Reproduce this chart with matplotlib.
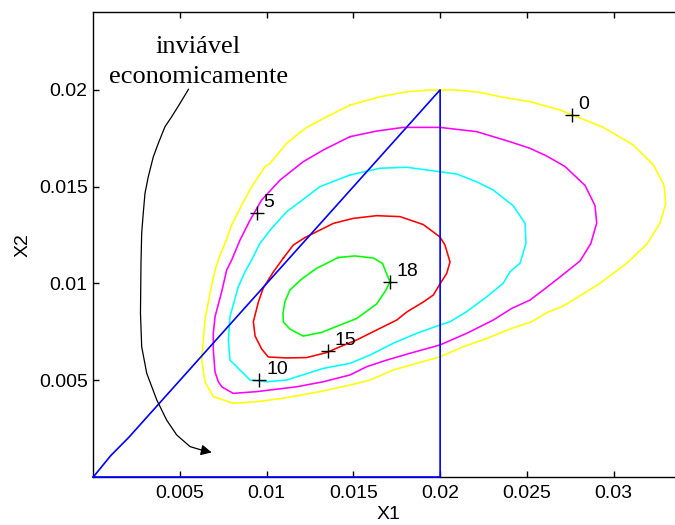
import numpy as np
import matplotlib
matplotlib.use("Agg")
import matplotlib.pyplot as plt

plt.rcParams["font.family"] = ["Liberation Sans", "DejaVu Sans"]

# contour lines, coordinates in units of 1e-3
levels = [0, 5, 10, 15, 18]
colors = ["#ffff00", "#ff00ff", "#00ffff", "#ff0000", "#00ff00"]

x_c0 = [14.80, 16.53, 18.07, 19.42, 20.96, 22.30, 23.64, 25.18, 26.91, 27.88,
        29.41, 31.14, 32.30, 32.91, 33.01, 32.68, 31.93, 30.76, 29.22, 27.97,
        27.10, 26.15, 25.28, 24.13, 22.69, 21.34, 19.99, 18.65, 17.30, 15.96,
        14.80, 13.07, 10.96, 9.42, 8.07, 7.50, 6.92, 6.44, 6.25, 6.34,
        6.44, 6.73, 7.02, 7.31, 7.60, 7.98, 8.56, 9.13, 9.90, 10.19,
        11.15, 12.21, 13.46]
y_c0 = [19.21, 19.64, 19.90, 19.99, 19.99, 19.87, 19.61, 19.39, 18.96, 18.61,
        18.06, 17.15, 16.12, 15.08, 14.10, 13.12, 12.04, 11.04, 10.01, 9.31,
        8.83, 8.49, 8.02, 7.68, 7.16, 6.73, 6.21, 5.87, 5.53, 5.01,
        4.75, 4.41, 4.07, 3.89, 3.81, 3.98, 4.15, 4.92, 6.04, 7.08,
        8.11, 9.49, 10.69, 11.47, 12.07, 13.02, 14.05, 14.99, 16.03, 16.20,
        17.24, 18.01, 18.61]

x_c5 = [14.80, 16.34, 17.88, 19.99, 22.11, 24.03, 25.18, 26.15, 27.20, 28.36,
        28.93, 29.03, 28.69, 28.07, 26.91, 25.95, 25.18, 24.13, 23.07, 21.53,
        19.99, 18.26, 16.92, 15.77, 14.80, 13.26, 11.73, 9.42, 8.07, 7.42,
        7.21, 7.02, 6.92, 6.92, 7.02, 7.40, 7.69, 7.98, 8.46, 9.04,
        9.71, 10.77, 12.11, 13.26]
y_c5 = [17.58, 17.87, 18.06, 18.06, 17.84, 17.32, 16.98, 16.58, 16.04, 15.06,
        14.02, 13.12, 12.06, 11.16, 10.33, 9.66, 9.14, 8.71, 8.11, 7.42,
        6.82, 6.39, 6.04, 5.70, 5.27, 4.92, 4.66, 4.41, 4.32, 4.65,
        4.92, 5.42, 6.56, 7.42, 8.28, 9.56, 10.69, 11.21, 12.24, 13.27,
        14.31, 15.34, 16.29, 16.89]

x_c10 = [14.80, 16.53, 18.07, 19.99, 20.96, 22.11, 23.07, 24.22, 24.90, 24.95,
         24.61, 24.03, 23.64, 22.69, 21.53, 20.57, 19.99, 18.65, 17.30, 15.96,
         14.80, 13.26, 11.15, 10.00, 9.04, 7.88, 7.79, 7.88, 8.36, 8.75,
         9.13, 9.61, 10.29, 11.15, 12.31, 13.07]
y_c10 = [15.60, 15.95, 16.00, 15.77, 15.65, 15.25, 14.82, 14.01, 13.10, 12.07,
         11.05, 10.60, 10.01, 9.31, 8.54, 8.02, 7.85, 7.42, 6.91, 6.30,
         5.87, 5.61, 5.01, 4.92, 5.01, 6.04, 7.08, 8.28, 9.83, 10.60,
         11.21, 12.07, 12.85, 13.70, 14.48, 15.00]

x_c15 = [10.96, 11.53, 12.21, 13.84, 14.99, 16.34, 17.69, 19.03, 19.99, 20.28,
         20.57, 20.38, 19.99, 19.61, 19.03, 18.07, 17.50, 16.15, 15.19, 14.23,
         13.46, 12.31, 11.15, 10.09, 9.71, 9.33, 9.23, 9.52, 9.80, 10.38]
y_c15 = [11.31, 11.98, 12.37, 13.10, 13.36, 13.50, 13.45, 13.04, 12.40, 11.98,
         11.11, 10.52, 9.97, 9.40, 9.04, 8.52, 8.11, 7.51, 7.08, 6.73,
         6.43, 6.17, 6.15, 6.20, 6.61, 7.28, 8.02, 9.04, 9.76, 10.59]

x_c18 = [14.13, 15.09, 16.15, 16.68, 16.94, 17.11, 16.88, 16.34, 15.19, 14.23,
         13.17, 12.11, 11.34, 10.96, 10.94, 11.06, 11.34, 12.02, 12.88]
y_c18 = [11.34, 11.42, 11.31, 11.03, 10.43, 10.09, 9.66, 8.94, 8.19, 7.85,
         7.47, 7.28, 7.64, 8.01, 8.47, 9.09, 9.66, 10.23, 10.78]

# labelled points on the contours
lab_x = [27.59, 9.42, 9.56, 13.52, 17.11]
lab_y = [18.70, 13.62, 5.01, 6.51, 10.09]
lab_txt = ["0", "5", "10", "15", "18"]

# feasibility limits: diagonal X2 = X1 and X1 = 0.02
tri_x = [0, 1.0, 2.05, 5.0, 20.0, 20.0, 0]
tri_y = [0, 1.1, 2.05, 5.0, 20.0, 0, 0]

# curved pointer under the annotation
arr_x = [5.49, 5.00, 4.52, 4.13, 3.75, 3.46, 3.17, 2.98, 2.88, 2.79, 2.75,
         2.72, 2.79, 3.08, 3.66, 4.23, 4.81, 5.58, 6.25]
arr_y = [20.03, 19.30, 18.61, 18.09, 17.24, 16.54, 15.51, 14.65, 13.62, 12.59,
         11.05, 8.47, 6.73, 5.36, 3.98, 2.94, 2.17, 1.57, 1.39]
arr_tip = (6.83, 1.27)

xticks = [0.005, 0.01, 0.015, 0.02, 0.025, 0.03]
xtick_labels = ["0.005", "0.01", "0.015", "0.02", "0.025", "0.03"]
yticks = [0.005, 0.01, 0.015, 0.02]
ytick_labels = ["0.005", "0.01", "0.015", "0.02"]

k = 1e-3
fig = plt.figure(figsize=(6.75, 5.25), dpi=100)
ax = fig.add_axes([93.3 / 675, 48 / 525, 589.6 / 675, 464.6 / 525])

contours = [(x_c0, y_c0), (x_c5, y_c5), (x_c10, y_c10),
            (x_c15, y_c15), (x_c18, y_c18)]
for (cx, cy), col in zip(contours, colors):
    cx = np.append(cx, cx[0]) * k
    cy = np.append(cy, cy[0]) * k
    ax.plot(cx, cy, color=col, lw=1.15, zorder=2)

ax.plot(np.array(tri_x) * k, np.array(tri_y) * k, color="#0000ff", lw=1.2,
        zorder=3, clip_on=False)

for lx, ly, t in zip(lab_x, lab_y, lab_txt):
    ax.plot(lx * k, ly * k, "+", color="k", ms=10, mew=1.0, zorder=4)
    ax.annotate(t, (lx * k, ly * k), xytext=(5.0, 4.3),
                textcoords="offset points", ha="left", va="baseline",
                fontsize=14, zorder=5)

ax.plot(np.array(arr_x) * k, np.array(arr_y) * k, color="k", lw=0.9, zorder=4)
ax.annotate("", xy=(arr_tip[0] * k, arr_tip[1] * k),
            xytext=(arr_x[-1] * k, arr_y[-1] * k),
            arrowprops=dict(arrowstyle="-|>", color="k", lw=0.9,
                            mutation_scale=16, shrinkA=0, shrinkB=0))

serif = ["Liberation Serif", "DejaVu Serif"]
ax.text(6.06 * k, 21.89 * k, "inviável", family=serif, fontsize=19,
        ha="center", va="baseline")
ax.text(6.06 * k, 20.34 * k, "economicamente", family=serif, fontsize=19,
        ha="center", va="baseline")

ax.set_xlim(0, 0.034)
ax.set_ylim(0, 0.024)
ax.set_xticks(xticks)
ax.set_xticklabels(xtick_labels)
ax.set_yticks(yticks)
ax.set_yticklabels(ytick_labels)
ax.tick_params(direction="in", length=4.3, width=1.0, labelsize=14,
               top=True, right=True)
ax.tick_params(axis="x", pad=5.5)
ax.tick_params(axis="y", pad=4)
for s in ax.spines.values():
    s.set_linewidth(1.0)

ax.set_xlabel("X1", fontsize=14, labelpad=3)
ax.set_ylabel("X2", fontsize=14, labelpad=5)

fig.savefig("out.png", dpi=100)
